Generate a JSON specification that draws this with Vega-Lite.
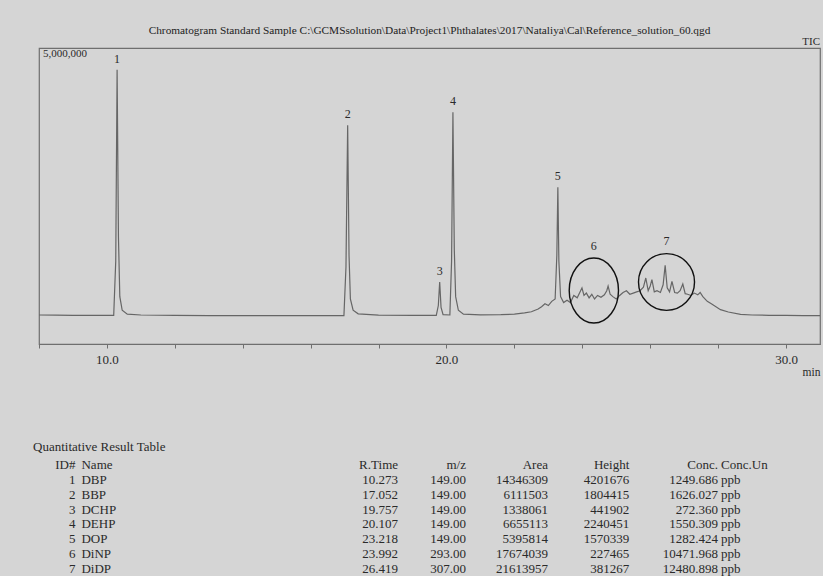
{
  "$schema": "https://vega.github.io/schema/vega-lite/v6.json",
  "background": "#d5d5d5",
  "padding": {"left": 33, "top": 24, "right": 0, "bottom": 0},
  "spacing": 62,
  "config": {
    "font": "Liberation Serif",
    "view": {"stroke": "#6f6f6f", "strokeWidth": 1.2},
    "axis": {"grid": false, "domainColor": "#6f6f6f", "tickColor": "#6f6f6f", "labelColor": "#2a2a2a", "labelFont": "Liberation Serif", "titleFont": "Liberation Serif"},
    "title": {"font": "Liberation Serif", "fontWeight": "normal", "color": "#222222"},
    "text": {"font": "Liberation Serif"}
  },
  "datasets": {
    "trace": [
      {"t": 8.0, "i": 490000}, {"t": 8.5, "i": 488000}, {"t": 9.0, "i": 485000}, {"t": 9.5, "i": 484000},
      {"t": 10.0, "i": 482000}, {"t": 10.2, "i": 482000}, {"t": 10.26, "i": 1400000}, {"t": 10.3, "i": 4633000},
      {"t": 10.34, "i": 1800000}, {"t": 10.38, "i": 800000}, {"t": 10.45, "i": 570000}, {"t": 10.6, "i": 505000},
      {"t": 11.0, "i": 490000}, {"t": 12.0, "i": 484000}, {"t": 13.0, "i": 480000}, {"t": 14.0, "i": 479000},
      {"t": 15.0, "i": 478000}, {"t": 16.0, "i": 478000}, {"t": 16.98, "i": 480000}, {"t": 17.04, "i": 1300000},
      {"t": 17.09, "i": 3694000}, {"t": 17.13, "i": 1500000}, {"t": 17.17, "i": 760000}, {"t": 17.25, "i": 570000},
      {"t": 17.4, "i": 510000}, {"t": 18.0, "i": 488000}, {"t": 19.0, "i": 482000}, {"t": 19.7, "i": 482000},
      {"t": 19.76, "i": 650000}, {"t": 19.8, "i": 1047000}, {"t": 19.84, "i": 620000}, {"t": 19.9, "i": 495000},
      {"t": 20.1, "i": 490000}, {"t": 20.15, "i": 1400000}, {"t": 20.19, "i": 3914000}, {"t": 20.23, "i": 1600000},
      {"t": 20.27, "i": 800000}, {"t": 20.35, "i": 570000}, {"t": 20.5, "i": 505000}, {"t": 21.0, "i": 492000},
      {"t": 21.6, "i": 495000}, {"t": 22.0, "i": 505000}, {"t": 22.3, "i": 525000}, {"t": 22.5, "i": 545000},
      {"t": 22.7, "i": 590000}, {"t": 22.8, "i": 630000}, {"t": 22.9, "i": 680000}, {"t": 23.0, "i": 650000},
      {"t": 23.1, "i": 720000}, {"t": 23.2, "i": 760000}, {"t": 23.25, "i": 1500000}, {"t": 23.28, "i": 2647000},
      {"t": 23.31, "i": 1400000}, {"t": 23.36, "i": 800000}, {"t": 23.45, "i": 700000}, {"t": 23.55, "i": 740000},
      {"t": 23.65, "i": 700000}, {"t": 23.75, "i": 820000}, {"t": 23.85, "i": 780000}, {"t": 23.95, "i": 900000},
      {"t": 23.99, "i": 946000}, {"t": 24.05, "i": 820000}, {"t": 24.12, "i": 860000}, {"t": 24.2, "i": 780000},
      {"t": 24.28, "i": 840000}, {"t": 24.36, "i": 760000}, {"t": 24.45, "i": 820000}, {"t": 24.55, "i": 790000},
      {"t": 24.65, "i": 830000}, {"t": 24.72, "i": 900000}, {"t": 24.76, "i": 980000}, {"t": 24.82, "i": 840000},
      {"t": 24.9, "i": 800000}, {"t": 25.0, "i": 760000}, {"t": 25.1, "i": 820000}, {"t": 25.2, "i": 870000},
      {"t": 25.3, "i": 900000}, {"t": 25.4, "i": 840000}, {"t": 25.5, "i": 860000}, {"t": 25.6, "i": 880000},
      {"t": 25.7, "i": 900000}, {"t": 25.8, "i": 960000}, {"t": 25.87, "i": 1115000}, {"t": 25.94, "i": 900000},
      {"t": 26.0, "i": 980000}, {"t": 26.05, "i": 1086000}, {"t": 26.12, "i": 880000}, {"t": 26.2, "i": 900000},
      {"t": 26.3, "i": 870000}, {"t": 26.38, "i": 1000000}, {"t": 26.44, "i": 1329000}, {"t": 26.5, "i": 950000},
      {"t": 26.57, "i": 880000}, {"t": 26.64, "i": 1059000}, {"t": 26.72, "i": 870000}, {"t": 26.8, "i": 860000},
      {"t": 26.88, "i": 900000}, {"t": 26.96, "i": 1013000}, {"t": 27.03, "i": 850000}, {"t": 27.1, "i": 840000},
      {"t": 27.2, "i": 820000}, {"t": 27.3, "i": 860000}, {"t": 27.4, "i": 830000}, {"t": 27.47, "i": 870000},
      {"t": 27.55, "i": 800000}, {"t": 27.68, "i": 720000}, {"t": 27.8, "i": 680000}, {"t": 28.07, "i": 580000},
      {"t": 28.3, "i": 540000}, {"t": 28.66, "i": 500000}, {"t": 29.0, "i": 490000}, {"t": 29.5, "i": 485000},
      {"t": 30.0, "i": 482000}, {"t": 30.5, "i": 480000}, {"t": 31.0, "i": 480000}
    ],
    "peaks": [
      {"pk": "1", "t": 10.3, "i": 4633000},
      {"pk": "2", "t": 17.09, "i": 3694000},
      {"pk": "3", "t": 19.8, "i": 1047000},
      {"pk": "4", "t": 20.19, "i": 3914000},
      {"pk": "5", "t": 23.28, "i": 2647000}
    ],
    "regions": [
      {"pk": "6", "t": 24.34, "i": 904000},
      {"pk": "7", "t": 26.48, "i": 1047000}
    ],
    "header": [
      {"hid": "ID#", "hname": "Name", "hrt": "R.Time", "hmz": "m/z", "harea": "Area", "hheight": "Height", "hconc": "Conc.", "hunit": "Conc.Un"}
    ],
    "results": [
      {"id": 1, "name": "DBP", "rt": 10.273, "mz": 149.0, "area": 14346309, "height": 4201676, "conc": 1249.686, "unit": "ppb"},
      {"id": 2, "name": "BBP", "rt": 17.052, "mz": 149.0, "area": 6111503, "height": 1804415, "conc": 1626.027, "unit": "ppb"},
      {"id": 3, "name": "DCHP", "rt": 19.757, "mz": 149.0, "area": 1338061, "height": 441902, "conc": 272.36, "unit": "ppb"},
      {"id": 4, "name": "DEHP", "rt": 20.107, "mz": 149.0, "area": 6655113, "height": 2240451, "conc": 1550.309, "unit": "ppb"},
      {"id": 5, "name": "DOP", "rt": 23.218, "mz": 149.0, "area": 5395814, "height": 1570339, "conc": 1282.424, "unit": "ppb"},
      {"id": 6, "name": "DiNP", "rt": 23.992, "mz": 293.0, "area": 17674039, "height": 227465, "conc": 10471.968, "unit": "ppb"},
      {"id": 7, "name": "DiDP", "rt": 26.419, "mz": 307.0, "area": 21613957, "height": 381267, "conc": 12480.898, "unit": "ppb"}
    ]
  },
  "vconcat": [
    {
      "width": 781,
      "height": 296,
      "title": {"text": "Chromatogram Standard Sample  C:\\GCMSsolution\\Data\\Project1\\Phthalates\\2017\\Nataliya\\Cal\\Reference_solution_60.qgd", "fontSize": 11.3, "anchor": "middle", "frame": "group", "offset": -11, "baseline": "bottom"},
      "layer": [
        {
          "data": {"name": "trace"},
          "mark": {"type": "line", "color": "#666666", "strokeWidth": 1.2},
          "encoding": {
            "x": {"field": "t", "type": "quantitative",
              "scale": {"domain": [8, 31], "nice": false, "zero": false},
              "axis": {"values": [8,9,10,11,12,13,14,15,16,17,18,19,20,21,22,23,24,25,26,27,28,29,30,31],
                "labelExpr": "datum.value % 10 === 0 ? format(datum.value, '.1f') : ''",
                "tickSize": 4, "labelPadding": 5, "labelFontSize": 13, "labelFlush": false,
                "title": "min", "titleAnchor": "end", "titleAlign": "right", "titleFontSize": 11.5, "titleFontWeight": "normal", "titleColor": "#2a2a2a", "titlePadding": 0}},
            "y": {"field": "i", "type": "quantitative", "scale": {"domain": [0, 5000000], "nice": false}, "axis": null}
          }
        },
        {
          "data": {"name": "peaks"},
          "mark": {"type": "text", "baseline": "middle", "dy": -11, "fontSize": 12, "color": "#2a2a2a"},
          "encoding": {
            "x": {"field": "t", "type": "quantitative"},
            "y": {"field": "i", "type": "quantitative"},
            "text": {"field": "pk"}
          }
        },
        {
          "data": {"name": "regions"},
          "transform": [{"filter": "datum.pk == '6'"}],
          "layer": [
            {"mark": {"type": "point", "shape": "M -0.758 0 A 0.758 1 0 1 0 0.758 0 A 0.758 1 0 1 0 -0.758 0 Z", "size": 4225, "filled": false, "stroke": "#111111", "strokeWidth": 1.4, "opacity": 1},
             "encoding": {"x": {"field": "t", "type": "quantitative"}, "y": {"field": "i", "type": "quantitative"}}},
            {"mark": {"type": "text", "baseline": "middle", "dy": -44, "fontSize": 12, "color": "#2a2a2a"},
             "encoding": {"x": {"field": "t", "type": "quantitative"}, "y": {"field": "i", "type": "quantitative"}, "text": {"field": "pk"}}}
          ]
        },
        {
          "data": {"name": "regions"},
          "transform": [{"filter": "datum.pk == '7'"}],
          "layer": [
            {"mark": {"type": "point", "shape": "M -0.988 0 A 0.988 1 0 1 0 0.988 0 A 0.988 1 0 1 0 -0.988 0 Z", "size": 3215, "filled": false, "stroke": "#111111", "strokeWidth": 1.4, "opacity": 1},
             "encoding": {"x": {"field": "t", "type": "quantitative"}, "y": {"field": "i", "type": "quantitative"}}},
            {"mark": {"type": "text", "baseline": "middle", "dy": -41, "fontSize": 12, "color": "#2a2a2a"},
             "encoding": {"x": {"field": "t", "type": "quantitative"}, "y": {"field": "i", "type": "quantitative"}, "text": {"field": "pk"}}}
          ]
        },
        {
          "data": {"values": [{"label": "TIC"}]},
          "mark": {"type": "text", "align": "right", "baseline": "bottom", "dy": -1, "fontSize": 11, "color": "#2a2a2a"},
          "encoding": {"x": {"datum": 31}, "y": {"datum": 5000000}, "text": {"field": "label"}}
        },
        {
          "data": {"values": [{"label": "5,000,000"}]},
          "mark": {"type": "text", "align": "left", "baseline": "top", "dx": 4, "dy": 0, "fontSize": 11, "color": "#2a2a2a"},
          "encoding": {"x": {"datum": 8}, "y": {"datum": 5000000}, "text": {"field": "label"}}
        }
      ]
    },
    {
      "width": 781,
      "height": 104,
      "view": {"stroke": null},
      "title": {"text": "Quantitative Result Table", "fontSize": 13, "anchor": "start", "frame": "group", "dx": -6, "offset": -8, "baseline": "bottom", "color": "#2a2a2a"},
      "layer": [
        {"data": {"name": "header"}, "mark": {"type": "text", "align": "right", "fontSize": 13, "color": "#2a2a2a"},
         "encoding": {"x": {"datum": 0.0467, "type": "quantitative", "scale": {"domain": [0, 1], "nice": false, "zero": false}, "axis": null},
           "y": {"datum": 0, "type": "quantitative", "scale": {"domain": [0, 7], "reverse": true, "nice": false, "zero": false}, "axis": null},
           "text": {"field": "hid", "type": "nominal"}}},
        {"data": {"name": "header"}, "mark": {"type": "text", "align": "left", "fontSize": 13, "color": "#2a2a2a"},
         "encoding": {"x": {"datum": 0.0544}, "y": {"datum": 0}, "text": {"field": "hname", "type": "nominal"}}},
        {"data": {"name": "header"}, "mark": {"type": "text", "align": "right", "fontSize": 13, "color": "#2a2a2a"},
         "encoding": {"x": {"datum": 0.4597}, "y": {"datum": 0}, "text": {"field": "hrt", "type": "nominal"}}},
        {"data": {"name": "header"}, "mark": {"type": "text", "align": "right", "fontSize": 13, "color": "#2a2a2a"},
         "encoding": {"x": {"datum": 0.5467}, "y": {"datum": 0}, "text": {"field": "hmz", "type": "nominal"}}},
        {"data": {"name": "header"}, "mark": {"type": "text", "align": "right", "fontSize": 13, "color": "#2a2a2a"},
         "encoding": {"x": {"datum": 0.6517}, "y": {"datum": 0}, "text": {"field": "harea", "type": "nominal"}}},
        {"data": {"name": "header"}, "mark": {"type": "text", "align": "right", "fontSize": 13, "color": "#2a2a2a"},
         "encoding": {"x": {"datum": 0.7558}, "y": {"datum": 0}, "text": {"field": "hheight", "type": "nominal"}}},
        {"data": {"name": "header"}, "mark": {"type": "text", "align": "right", "fontSize": 13, "color": "#2a2a2a"},
         "encoding": {"x": {"datum": 0.8694}, "y": {"datum": 0}, "text": {"field": "hconc", "type": "nominal"}}},
        {"data": {"name": "header"}, "mark": {"type": "text", "align": "left", "fontSize": 13, "color": "#2a2a2a"},
         "encoding": {"x": {"datum": 0.8733}, "y": {"datum": 0}, "text": {"field": "hunit", "type": "nominal"}}},
        {"data": {"name": "results"}, "mark": {"type": "text", "align": "right", "fontSize": 13, "color": "#2a2a2a"},
         "encoding": {"x": {"datum": 0.0467}, "y": {"field": "id", "type": "quantitative"}, "text": {"field": "id", "type": "quantitative", "format": "d"}}},
        {"data": {"name": "results"}, "mark": {"type": "text", "align": "left", "fontSize": 13, "color": "#2a2a2a"},
         "encoding": {"x": {"datum": 0.0544}, "y": {"field": "id", "type": "quantitative"}, "text": {"field": "name", "type": "nominal"}}},
        {"data": {"name": "results"}, "mark": {"type": "text", "align": "right", "fontSize": 13, "color": "#2a2a2a"},
         "encoding": {"x": {"datum": 0.4597}, "y": {"field": "id", "type": "quantitative"}, "text": {"field": "rt", "type": "quantitative", "format": ".3f"}}},
        {"data": {"name": "results"}, "mark": {"type": "text", "align": "right", "fontSize": 13, "color": "#2a2a2a"},
         "encoding": {"x": {"datum": 0.5467}, "y": {"field": "id", "type": "quantitative"}, "text": {"field": "mz", "type": "quantitative", "format": ".2f"}}},
        {"data": {"name": "results"}, "mark": {"type": "text", "align": "right", "fontSize": 13, "color": "#2a2a2a"},
         "encoding": {"x": {"datum": 0.6517}, "y": {"field": "id", "type": "quantitative"}, "text": {"field": "area", "type": "quantitative", "format": "d"}}},
        {"data": {"name": "results"}, "mark": {"type": "text", "align": "right", "fontSize": 13, "color": "#2a2a2a"},
         "encoding": {"x": {"datum": 0.7558}, "y": {"field": "id", "type": "quantitative"}, "text": {"field": "height", "type": "quantitative", "format": "d"}}},
        {"data": {"name": "results"}, "mark": {"type": "text", "align": "right", "fontSize": 13, "color": "#2a2a2a"},
         "encoding": {"x": {"datum": 0.8694}, "y": {"field": "id", "type": "quantitative"}, "text": {"field": "conc", "type": "quantitative", "format": ".3f"}}},
        {"data": {"name": "results"}, "mark": {"type": "text", "align": "left", "fontSize": 13, "color": "#2a2a2a"},
         "encoding": {"x": {"datum": 0.8733}, "y": {"field": "id", "type": "quantitative"}, "text": {"field": "unit", "type": "nominal"}}}
      ]
    }
  ]
}
